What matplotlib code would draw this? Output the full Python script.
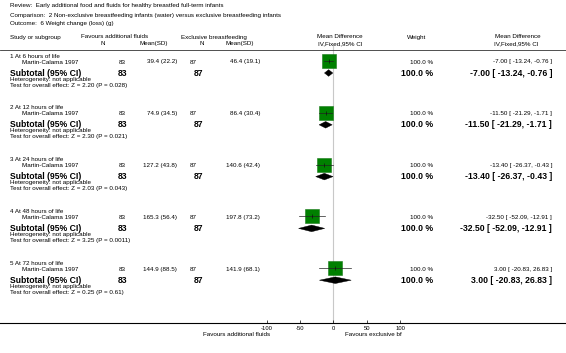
import matplotlib
matplotlib.use("Agg")
import matplotlib.pyplot as plt
from matplotlib.patches import Polygon

plt.rcParams['font.family'] = ['Liberation Sans', 'DejaVu Sans']

# ---- data ----
title_review = "Review:  Early additional food and fluids for healthy breastfed full-term infants"
title_comp = "Comparison:  2 Non-exclusive breastfeeding infants (water) versus exclusive breastfeeding infants"
title_outcome = "Outcome:  6 Weight change (loss) (g)"

groups = ["1 At 6 hours of life", "2 At 12 hours of life", "3 At 24 hours of life",
          "4 At 48 hours of life", "5 At 72 hours of life"]
study = "Martin-Calama 1997"
n1 = [83, 83, 83, 83, 83]
mean1 = [39.4, 74.9, 127.2, 165.3, 144.9]
sd1 = [22.2, 34.5, 43.8, 56.4, 88.5]
n2 = [87, 87, 87, 87, 87]
mean2 = [46.4, 86.4, 140.6, 197.8, 141.9]
sd2 = [19.1, 30.4, 42.4, 73.2, 68.1]
md = [-7.00, -11.50, -13.40, -32.50, 3.00]
lo = [-13.24, -21.29, -26.37, -52.09, -20.83]
hi = [-0.76, -1.71, -0.43, -12.91, 26.83]
weight = ["100.0 %"] * 5
zval = ["2.20", "2.30", "2.03", "3.25", "0.25"]
pval = ["0.028", "0.021", "0.043", "0.0011", "0.61"]
xticks = [-100, -50, 0, 50, 100]
left_label = "Favours additional fluids"
right_label = "Favours exclusive bf"

# ---- figure ----
W, H = 566, 353
fig = plt.figure(figsize=(W / 100, H / 100), dpi=100)
axis_y = 323
ax = fig.add_axes([0, (H - axis_y) / H, 1, axis_y / H])
scale = 100 / 66.67  # data units per pixel
x0px = 333.3
ax.set_xlim(-x0px * scale, (W - x0px) * scale)
ax.set_ylim(axis_y, 0)
for s in ['top', 'left', 'right']:
    ax.spines[s].set_visible(False)
ax.spines['bottom'].set_linewidth(0.8)
ax.set_yticks([])
ax.set_xticks(xticks)
ax.set_xticklabels([str(t) for t in xticks])
ax.tick_params(axis='x', direction='in', length=2.5, width=0.5, labelsize=4.2, pad=2.5)
ax.patch.set_visible(False)

# zero line
ax.plot([0, 0], [45, axis_y], color='#c8c8c8', lw=0.8, zorder=1)

axt = fig.add_axes([0, 0, 1, 1])
axt.set_xlim(0, W)
axt.set_ylim(H, 0)
axt.axis('off')
axt.patch.set_visible(False)

fs = 4.5
fsb = 6.2

axt.text(10, 6, title_review, fontsize=fs, va='center', ha='left')
axt.text(10, 15, title_comp, fontsize=fs, va='center', ha='left')
axt.text(10, 23.5, title_outcome, fontsize=fs, va='center', ha='left')

axt.text(10, 38, "Study or subgroup", fontsize=fs, va='center', ha='left')
axt.text(115, 37, "Favours additional fluids", fontsize=fs, va='center', ha='center')
axt.text(103, 43.5, "N", fontsize=fs, va='center', ha='center')
axt.text(154, 43.5, "Mean(SD)", fontsize=fs, va='center', ha='center')
axt.text(214, 37, "Exclusive breastfeeding", fontsize=fs, va='center', ha='center')
axt.text(202, 43.5, "N", fontsize=fs, va='center', ha='center')
axt.text(240, 43.5, "Mean(SD)", fontsize=fs, va='center', ha='center')
axt.text(340, 37, "Mean Difference", fontsize=fs, va='center', ha='center')
axt.text(340, 43.5, "IV,Fixed,95% CI", fontsize=fs, va='center', ha='center')
axt.text(417, 38, "Weight", fontsize=fs, va='center', ha='center')
axt.text(518, 37, "Mean Difference", fontsize=fs, va='center', ha='center')
axt.text(516, 43.5, "IV,Fixed,95% CI", fontsize=fs, va='center', ha='center')
axt.plot([0, W], [49.5, 49.5], color='#333333', lw=0.6)

for i, g in enumerate(groups):
    base = 56 + 51.8 * i
    ys = base + 6
    yt = base + 17
    axt.text(10, base, g, fontsize=fs, va='center', ha='left')
    axt.text(22, ys, study, fontsize=fs, va='center', ha='left')
    axt.text(126, ys, str(n1[i]), fontsize=fs, va='center', ha='right')
    axt.text(177, ys, f"{mean1[i]:.1f} ({sd1[i]:.1f})", fontsize=fs, va='center', ha='right')
    axt.text(197, ys, str(n2[i]), fontsize=fs, va='center', ha='right')
    axt.text(260, ys, f"{mean2[i]:.1f} ({sd2[i]:.1f})", fontsize=fs, va='center', ha='right')
    axt.text(433, ys, weight[i], fontsize=fs, va='center', ha='right')
    axt.text(552, ys, f"{md[i]:.2f} [ {lo[i]:.2f}, {hi[i]:.2f} ]", fontsize=fs, va='center', ha='right')

    axt.text(10, yt, "Subtotal (95% CI)", fontsize=fsb, fontweight='bold', va='center', ha='left')
    axt.text(127, yt, str(n1[i]), fontsize=fsb, fontweight='bold', va='center', ha='right')
    axt.text(203, yt, str(n2[i]), fontsize=fsb, fontweight='bold', va='center', ha='right')
    axt.text(433, yt, weight[i], fontsize=fsb, fontweight='bold', va='center', ha='right')
    axt.text(552, yt, f"{md[i]:.2f} [ {lo[i]:.2f}, {hi[i]:.2f} ]", fontsize=fsb,
             fontweight='bold', va='center', ha='right')
    axt.text(10, base + 23, "Heterogeneity: not applicable", fontsize=fs, va='center', ha='left')
    axt.text(10, base + 29, f"Test for overall effect: Z = {zval[i]} (P = {pval[i]})",
             fontsize=fs, va='center', ha='left')

    # forest marks
    ysq = ys - 1
    ax.plot([md[i]], [ysq], marker='s', ms=9.5, mfc='#008000', mec='#1a7a1a', mew=0.4, zorder=4)
    ax.plot([lo[i], hi[i]], [ysq, ysq], color='#222222', lw=0.5, zorder=5)
    ax.plot([md[i]], [ysq], marker='|', ms=3, color='#111111', mew=0.5, zorder=6)
    dh = 3.3
    ax.add_patch(Polygon([(lo[i], yt), (md[i], yt - dh), (hi[i], yt), (md[i], yt + dh)],
                         closed=True, facecolor='black', edgecolor='black', lw=0.3, zorder=4))

axt.text(270, 334, left_label, fontsize=fs, va='center', ha='right')
axt.text(345, 334, right_label, fontsize=fs, va='center', ha='left')

fig.savefig("out.png", dpi=100)
